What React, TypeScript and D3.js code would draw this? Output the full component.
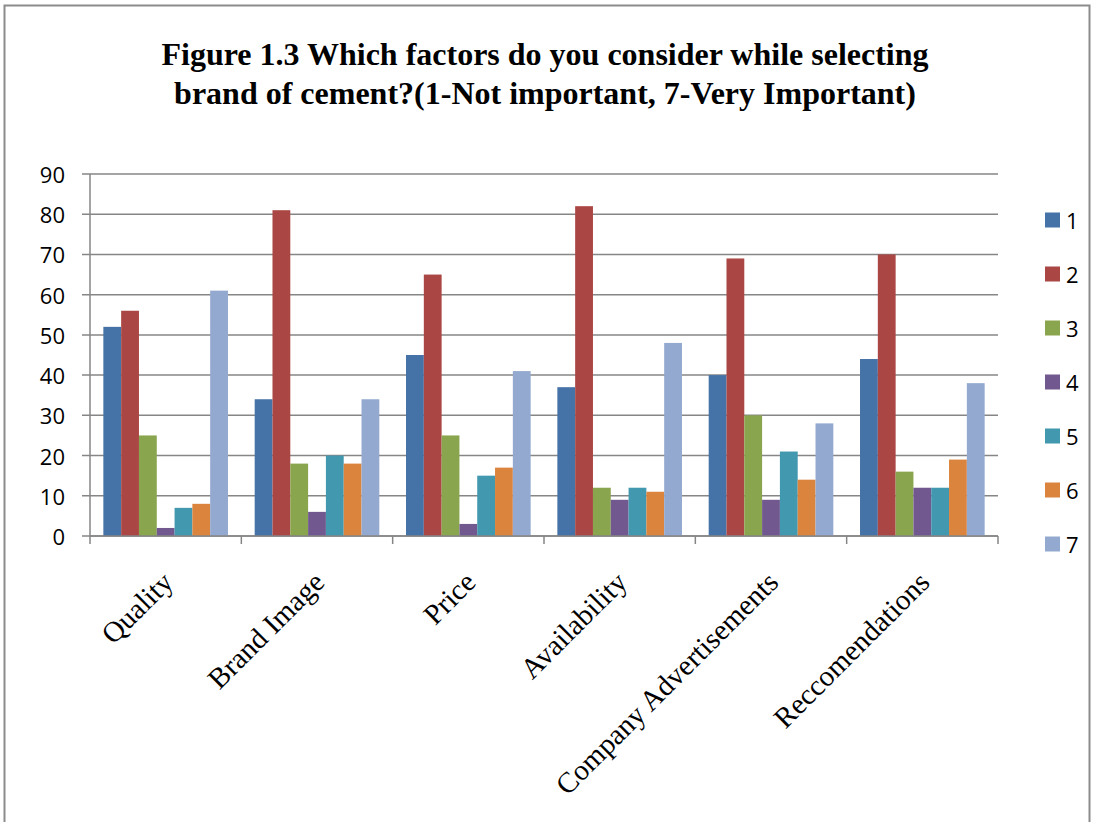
import {useMemo} from "react";
import * as d3 from "d3";

const categories = ["Quality", "Brand Image", "Price", "Availability", "Company Advertisements", "Reccomendations"];
const seriesNames = ["1", "2", "3", "4", "5", "6", "7"];
const colors = ["#4572A7", "#AA4643", "#89A54E", "#71588F", "#4198AF", "#DB843D", "#93A9CF"];

// one array per rating, values per category
const rating1 = [52, 34, 45, 37, 40, 44];
const rating2 = [56, 81, 65, 82, 69, 70];
const rating3 = [25, 18, 25, 12, 30, 16];
const rating4 = [2, 6, 3, 9, 9, 12];
const rating5 = [7, 20, 15, 12, 21, 12];
const rating6 = [8, 18, 17, 11, 14, 19];
const rating7 = [61, 34, 41, 48, 28, 38];
const allSeries = [rating1, rating2, rating3, rating4, rating5, rating6, rating7];

const yTicks = [0, 10, 20, 30, 40, 50, 60, 70, 80, 90];

const WIDTH = 1094;
const HEIGHT = 822;
const PLOT = {left: 90, right: 998, top: 174, bottom: 536};
const GRID = "#868686";
const SANS = "'Open Sans', 'Liberation Sans', sans-serif";
const SERIF = "'Liberation Serif', 'Times New Roman', serif";

export default function App() {
    const xScale = useMemo(() => d3.scaleBand<string>()
        .domain(categories)
        .range([PLOT.left, PLOT.right])
        .paddingInner(0)
        .paddingOuter(0), []);

    const yScale = useMemo(() => d3.scaleLinear()
        .domain([0, 90])
        .range([PLOT.bottom, PLOT.top]), []);

    // Excel-ish gap width: 150% of one bar split across both sides
    const bw = xScale.bandwidth();
    const barW = bw / (seriesNames.length + 1.5);
    const gap = (bw - barW * seriesNames.length) / 2;

    const bars = categories.map((cat, ci) => {
        const x0 = (xScale(cat) ?? 0) + gap;
        return allSeries.map((series, si) => {
            const v = series[ci];
            return (
                <rect
                    key={`${ci}-${si}`}
                    x={x0 + si * barW}
                    y={yScale(v)}
                    width={barW}
                    height={yScale(0) - yScale(v)}
                    fill={colors[si]}
                />
            );
        });
    });

    const grid = yTicks.map((t) => (
        <g key={t}>
            <line x1={PLOT.left - 8} x2={PLOT.right} y1={yScale(t)} y2={yScale(t)} stroke={GRID} strokeWidth={1.5} />
            <text
                x={65}
                y={yScale(t)}
                textAnchor="end"
                dominantBaseline="central"
                fontFamily={SANS}
                fontSize={22}
                fill="#000"
            >
                {t}
            </text>
        </g>
    ));

    const xTicks = [...categories.map((c) => xScale(c) ?? 0), PLOT.right].map((x, i) => (
        <line key={i} x1={x} x2={x} y1={PLOT.bottom} y2={PLOT.bottom + 8} stroke={GRID} strokeWidth={1.5} />
    ));

    const xLabels = categories.map((c) => {
        const cx = (xScale(c) ?? 0) + bw / 2 + 9;
        const cy = PLOT.bottom + 48;
        return (
            <text
                key={c}
                transform={`translate(${cx},${cy}) rotate(-45)`}
                textAnchor="end"
                fontFamily={SERIF}
                fontSize={29}
                fill="#000"
            >
                {c}
            </text>
        );
    });

    const legend = seriesNames.map((name, i) => {
        const cy = 220 + i * 54;
        return (
            <g key={name}>
                <rect x={1045} y={cy - 7.5} width={15} height={15} fill={colors[i]} />
                <text
                    x={1066}
                    y={cy}
                    dominantBaseline="central"
                    fontFamily={SANS}
                    fontSize={22}
                    fill="#000"
                >
                    {name}
                </text>
            </g>
        );
    });

    return (
        <svg width={WIDTH} height={HEIGHT} style={{position: "absolute", left: 0, top: 0, background: "#fff"}}>
            <rect x={4.5} y={5.5} width={1085} height={HEIGHT + 20} fill="#fff" stroke="#8c8c8c" strokeWidth={2} />
            <text
                textAnchor="middle"
                fontFamily={SERIF}
                fontWeight="bold"
                fontSize={32}
                fill="#000"
            >
                <tspan x={545} y={65}>Figure 1.3 Which factors do you consider while selecting</tspan>
                <tspan x={545} y={104}>brand of cement?(1-Not important, 7-Very Important)</tspan>
            </text>
            {grid}
            {bars}
            <line x1={PLOT.left} x2={PLOT.left} y1={PLOT.top} y2={PLOT.bottom} stroke={GRID} strokeWidth={1.5} />
            <line x1={PLOT.left} x2={PLOT.right} y1={PLOT.bottom} y2={PLOT.bottom} stroke={GRID} strokeWidth={1.5} />
            {xTicks}
            {xLabels}
            {legend}
        </svg>
    );
}
